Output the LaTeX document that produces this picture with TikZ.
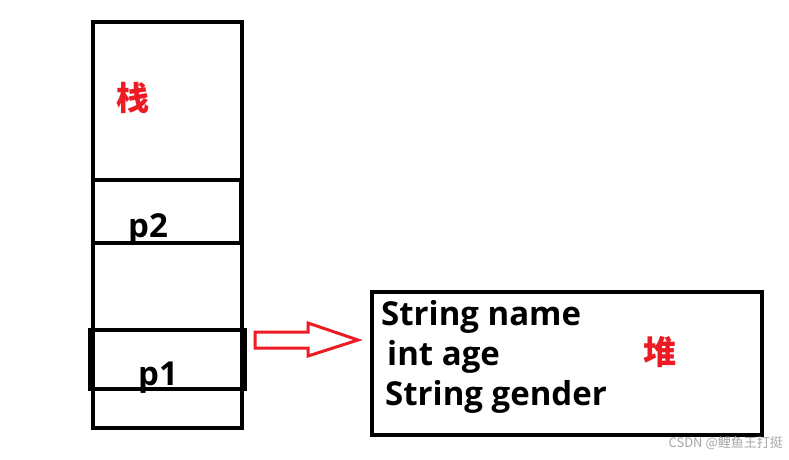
\documentclass[tikz,border=0pt]{standalone}
\usepackage{fontspec}
\setmainfont{Open Sans}
\newfontfamily\cjk{Noto Sans CJK SC}
\definecolor{arrred}{HTML}{ED1C24}
\tikzset{
  box/.style={draw=black,line width=4pt},
  lbl/.style={anchor=base west,inner sep=0pt,font=\fontsize{33}{33}\selectfont\bfseries},
  cjklbl/.style={inner sep=0pt,text=arrred,font=\fontsize{33}{33}\selectfont\cjk\bfseries},
}
\begin{document}
\begin{tikzpicture}[x=1pt,y=-1pt]
\useasboundingbox (0,0) rectangle (789,459);
\fill[white] (0,0) rectangle (789,459);
% stack
\node[box,minimum width=149pt,minimum height=406pt,inner sep=0pt] (stack) at (167.5,225) {};
\node[box,minimum width=148pt,minimum height=63pt,inner sep=0pt] (p2box) at (167,211.5) {};
\node[box,minimum width=155pt,minimum height=59pt,inner sep=0pt] (p1box) at (167.5,359.5) {};
\node[cjklbl] (zhan) at (133,98) {栈};
\node[lbl] (p2) at (128,237) {p2};
\node[lbl] (p1) at (138,385) {p1};
% heap
\node[box,minimum width=390pt,minimum height=143pt,inner sep=0pt] (heap) at (567,363.5) {};
\node[lbl] (l1) at (381,325) {String name};
\node[lbl] (l2) at (387,365) {int age};
\node[lbl] (l3) at (385,405) {String gender};
\node[cjklbl] (dui) at (660,352) {堆};
% arrow
\coordinate (tail) at (255,340);
\coordinate (tip) at (358,340);
\draw[arrred,line width=3pt,line join=miter]
  (255,332) -- (308,332) -- (308,323) -- (tip) -- (308,356) -- (308,348) -- (255,348) -- cycle;
% watermark
\node[anchor=east,inner sep=0pt,text=black!35,font=\fontsize{13}{13}\selectfont\cjk] (wm) at (783,443) {CSDN @鲤鱼王打挺};
\end{tikzpicture}
\end{document}
